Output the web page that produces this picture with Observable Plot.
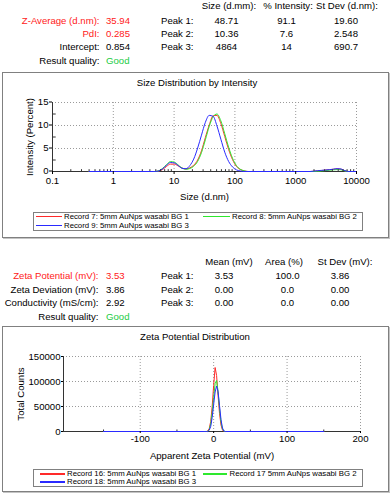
<!DOCTYPE html>
<html><head><meta charset="utf-8">
<script src="https://cdn.jsdelivr.net/npm/d3@7"></script>
<script src="https://cdn.jsdelivr.net/npm/@observablehq/plot@0.6"></script>
<style>
html,body{margin:0;padding:0;background:#fff;}
#root{position:relative;width:391px;height:496px;overflow:hidden;font-family:"Liberation Sans",Arial,sans-serif;font-size:9.6px;color:#000;}
.t{position:absolute;white-space:nowrap;line-height:12px;height:12px;}
.panel{position:absolute;border:1px solid #808080;box-shadow:1px 1px 0 #c4c4c4;background:#fff;box-sizing:border-box;}
.legend{position:absolute;border:1px solid #808080;background:#fff;box-sizing:border-box;}
.chart{position:absolute;left:0;}
.sw{position:absolute;}
</style></head><body><div id="root"></div>
<script>
// ---------- Summary tables ----------
const sizeSummaryLabels = ["Z-Average (d.nm):", "PdI:", "Intercept:", "Result quality:"];
const sizeSummaryValues = ["35.94", "0.285", "0.854", "Good"];
const sizePeakHeaders = ["Size (d.mm):", "% Intensity:", "St Dev (d.nm):"];
const peakNames = ["Peak 1:", "Peak 2:", "Peak 3:"];
const sizePeakSize = ["48.71", "10.36", "4864"];
const sizePeakIntensity = ["91.1", "7.6", "14"];
const sizePeakStDev = ["19.60", "2.548", "690.7"];

const zetaSummaryLabels = ["Zeta Potential (mV):", "Zeta Deviation (mV):", "Conductivity (mS/cm):", "Result quality:"];
const zetaSummaryValues = ["3.53", "3.86", "2.92", "Good"];
const zetaPeakHeaders = ["Mean (mV)", "Area (%)", "St Dev (mV):"];
const zetaPeakMean = ["3.53", "0.00", "0.00"];
const zetaPeakArea = ["100.0", "0.0", "0.0"];
const zetaPeakStDev = ["3.86", "0.00", "0.00"];

// ---------- Size distribution data ----------
const sizeBins = [0.4, 4.8, 5.6, 6.5, 7.5, 8.7, 10.1, 11.7, 13.5, 15.7, 18.2, 21.0, 24.4, 28.2, 32.7, 37.8, 43.8, 50.7, 58.8, 68.1, 78.8, 91.3, 106, 122, 142, 164, 1720, 1990, 2300, 2670, 3090, 3580, 4150, 4800, 5560, 6440, 7460, 10000];
const record7Intensity = [0, 0, 0.1, 0.45, 1.1, 1.6, 1.6, 1.2, 0.75, 0.55, 0.8, 1.35, 2.5, 4.5, 7.4, 10.1, 12.1, 12.2, 10.4, 7.6, 4.8, 2.6, 1.1, 0.45, 0.15, 0, 0, 0.05, 0.15, 0.22, 0.3, 0.38, 0.48, 0.58, 0.5, 0.15, 0, 0];
const record8Intensity = [0, 0, 0.15, 0.7, 1.5, 2.15, 2.05, 1.4, 0.75, 0.5, 0.65, 1.15, 2.2, 4.1, 6.9, 9.8, 11.9, 12.5, 11.0, 8.2, 5.3, 2.9, 1.3, 0.5, 0.15, 0, 0, 0, 0.05, 0.12, 0.2, 0.28, 0.36, 0.42, 0.38, 0.1, 0, 0];
const record9Intensity = [0, 0, 0.12, 0.6, 1.35, 1.95, 1.85, 1.3, 0.7, 0.6, 1.3, 2.7, 5.1, 7.9, 10.7, 12.2, 12.0, 9.9, 7.0, 4.2, 2.2, 1.0, 0.35, 0.12, 0, 0, 0, 0.08, 0.18, 0.25, 0.32, 0.4, 0.5, 0.62, 0.55, 0.18, 0, 0];
const sizeTicks = [0.1, 1, 10, 100, 1000, 10000];
const sizeMinorTicks = [0.2,0.3,0.4,0.5,0.6,0.7,0.8,0.9,2,3,4,5,6,7,8,9,20,30,40,50,60,70,80,90,200,300,400,500,600,700,800,900,2000,3000,4000,5000,6000,7000,8000,9000];
const intensityTicks = [0, 5, 10, 15];
const intensityMinorTicks = [2.5, 7.5, 12.5];
const sizeLegend = ["Record 7: 5mm AuNps wasabi BG 1", "Record 8: 5mm AuNps wasabi BG 2", "Record 9: 5mm AuNps wasabi BG 3"];

// ---------- Zeta distribution data ----------
const zetaBins = [-150, -12, -10, -8, -6, -4, -2, 0, 2, 4, 6, 8, 10, 12, 14, 16, 150];
const record16Counts = [0, 0, 0, 1000, 6000, 20000, 50000, 92000, 128000, 112000, 72000, 36000, 13000, 3000, 0, 0, 0];
const record17Counts = [0, 0, 0, 500, 4000, 15000, 38000, 68000, 96000, 102000, 80000, 46000, 19000, 5000, 500, 0, 0];
const record18Counts = [0, 0, 0, 0, 2500, 10000, 28000, 54000, 79000, 91000, 80000, 52000, 24000, 7000, 1000, 0, 0];
const zetaTicks = [-100, 0, 100, 200];
const zetaMinorTicks = [-150, -50, 50, 150];
const countTicks = [0, 50000, 100000, 150000];
const zetaLegend = ["Record 16: 5mm AuNps wasabi BG 1", "Record 17 5mm AuNps wasabi BG 2", "Record 18: 5mm AuNps wasabi BG 3"];

const seriesColors = ["#ff2a2a", "#2ee82e", "#2a2aff"];

// ---------- helpers ----------
const root = document.getElementById("root");
function addText(str, x, y, align, color, size) {
  const el = document.createElement("div");
  el.className = "t";
  el.textContent = str;
  el.style.top = (y - 6) + "px";
  if (align === "right") el.style.right = (391 - x) + "px";
  else if (align === "center") { el.style.left = x + "px"; el.style.transform = "translateX(-50%)"; }
  else el.style.left = x + "px";
  if (color) el.style.color = color;
  if (size) el.style.fontSize = size + "px";
  root.appendChild(el);
}
function addBox(cls, x, y, w, h) {
  const el = document.createElement("div");
  el.className = cls;
  Object.assign(el.style, {left: x + "px", top: y + "px", width: w + "px", height: h + "px"});
  root.appendChild(el);
}
function addSwatch(x1, x2, y, color, thick) {
  const el = document.createElement("div");
  el.className = "sw";
  Object.assign(el.style, {left: x1 + "px", top: (y - thick / 2) + "px", width: (x2 - x1) + "px", height: thick + "px", background: color});
  root.appendChild(el);
}
const RED = "#ff2020", GREEN = "#22cc44";

// ---------- top summary ----------
const topRows = [20.7, 33.5, 47.3, 61];
sizePeakHeaders.forEach((h, i) => addText(h, [229, 288, 347][i], 6, "center"));
sizeSummaryLabels.forEach((l, i) => addText(l, 99.5, topRows[i], "right", i < 2 ? RED : null));
sizeSummaryValues.forEach((v, i) => addText(v, 106, topRows[i], "left", i < 2 ? RED : (i === 3 ? GREEN : null)));
peakNames.forEach((p, i) => {
  addText(p, 161, topRows[i], "left");
  addText(sizePeakSize[i], 226.5, topRows[i], "center");
  addText(sizePeakIntensity[i], 286.5, topRows[i], "center");
  addText(sizePeakStDev[i], 346, topRows[i], "center");
});

// ---------- zeta summary ----------
const zRows = [276, 289.5, 303.3, 317.3];
zetaPeakHeaders.forEach((h, i) => addText(h, [229, 284, 345][i], 262, "center"));
zetaSummaryLabels.forEach((l, i) => addText(l, 98.5, zRows[i], "right", i === 0 ? RED : null));
zetaSummaryValues.forEach((v, i) => addText(v, 106, zRows[i], "left", i === 0 ? RED : (i === 3 ? GREEN : null)));
peakNames.forEach((p, i) => {
  addText(p, 161, zRows[i], "left");
  addText(zetaPeakMean[i], 224, zRows[i], "center");
  addText(zetaPeakArea[i], 287.5, zRows[i], "center");
  addText(zetaPeakStDev[i], 340, zRows[i], "center");
});

// ---------- panels ----------
addBox("panel", 2, 72, 387, 166);
addBox("panel", 2, 326, 387, 166);
addText("Size Distribution by Intensity", 197, 83, "center", null, 9.6);
addText("Zeta Potential Distribution", 195, 337, "center", null, 9.6);

const plotStyle = {fontSize: "9.6px", fontFamily: "'Liberation Sans', Arial, sans-serif", color: "#000", background: "transparent", overflow: "visible"};
const gridStyle = {stroke: "#9a9a9a", strokeOpacity: 1, strokeDasharray: "1,2"};

// ---------- size chart ----------
const sizeSeries = [record7Intensity, record8Intensity, record9Intensity].map((ys, s) =>
  sizeBins.map((x, i) => ({size: x, intensity: ys[i], s})));
const sizeChart = Plot.plot({
  width: 391, height: 115,
  marginTop: 12, marginBottom: 34, marginLeft: 52, marginRight: 35,
  style: plotStyle,
  x: {type: "log", domain: [0.1, 10000]},
  y: {domain: [0, 15]},
  marks: [
    Plot.gridX(sizeTicks.slice(1), gridStyle),
    Plot.gridY(intensityTicks.slice(1), gridStyle),
    Plot.ruleY([0], {stroke: "#333"}),
    Plot.ruleX([0.1], {stroke: "#333"}),
    ...sizeSeries.map((d, s) => Plot.line(d, {x: "size", y: "intensity", stroke: seriesColors[s], strokeWidth: 1, curve: "monotone-x"})),
    Plot.ruleX(sizeMinorTicks, {x: d => d, y1: 0, y2: 0.4, stroke: "#333"}),
    Plot.ruleY(intensityMinorTicks, {y: d => d, x1: 0.1, x2: 0.115, stroke: "#333"}),
    Plot.axisX(sizeTicks, {tickSize: 3, tickPadding: 3, tickFormat: d => String(d), label: "Size (d.nm)", labelAnchor: "center", labelArrow: "none", labelOffset: 28}),
    Plot.axisY(intensityTicks, {tickSize: 3, tickPadding: 1, dy: -0.5, label: "Intensity (Percent)", labelAnchor: "center", labelArrow: "none", labelOffset: 26})
  ]
});
sizeChart.classList.add("chart");
sizeChart.style.top = "90px";
sizeChart.style.position = "absolute";
root.appendChild(sizeChart);

// ---------- zeta chart ----------
const zetaSeries = [record16Counts, record17Counts, record18Counts].map((ys, s) =>
  zetaBins.map((x, i) => ({zeta: x, counts: ys[i], s})));
const zetaChart = Plot.plot({
  width: 391, height: 120,
  marginTop: 11, marginBottom: 34, marginLeft: 63, marginRight: 31,
  style: plotStyle,
  x: {domain: [-204.5, 200]},
  y: {domain: [0, 150000]},
  marks: [
    Plot.gridX(zetaTicks, gridStyle),
    Plot.gridY(countTicks.slice(1), gridStyle),
    Plot.ruleY([0], {stroke: "#333"}),
    Plot.ruleX([-204.5], {stroke: "#333"}),
    ...zetaSeries.map((d, s) => Plot.line(d, {x: "zeta", y: "counts", stroke: seriesColors[s], strokeWidth: 1})),
    Plot.ruleX(zetaMinorTicks, {x: d => d, y1: 0, y2: 3000, stroke: "#333"}),
    Plot.axisX(zetaTicks, {tickSize: 2, tickPadding: 2, tickFormat: d => String(d), label: "Apparent Zeta Potential (mV)", labelAnchor: "center", labelArrow: "none", labelOffset: 27}),
    Plot.axisY(countTicks, {tickSize: 2, tickPadding: 1, tickFormat: d => String(d), label: "Total Counts", labelAnchor: "center", labelArrow: "none", labelOffset: 46.5})
  ]
});
zetaChart.classList.add("chart");
zetaChart.style.top = "345px";
zetaChart.style.position = "absolute";
root.appendChild(zetaChart);

// ---------- legends ----------
const LF = 7.8;
addBox("legend", 33, 212, 330, 19);
addSwatch(36, 62, 216.5, seriesColors[0], 1);
addText(sizeLegend[0], 64, 216.5, "left", null, LF);
addSwatch(203, 230, 216.5, seriesColors[1], 1);
addText(sizeLegend[1], 232, 216.5, "left", null, LF);
addSwatch(36, 62, 225.5, seriesColors[2], 1);
addText(sizeLegend[2], 64, 225.5, "left", null, LF);

addBox("legend", 33, 469, 330, 18);
addSwatch(40, 65, 474, seriesColors[0], 2);
addText(zetaLegend[0], 67, 474, "left", null, LF);
addSwatch(203, 227, 474, seriesColors[1], 2);
addText(zetaLegend[1], 229.5, 474, "left", null, LF);
addSwatch(40, 65, 481.5, seriesColors[2], 2);
addText(zetaLegend[2], 67, 481.5, "left", null, LF);
</script></body></html>
